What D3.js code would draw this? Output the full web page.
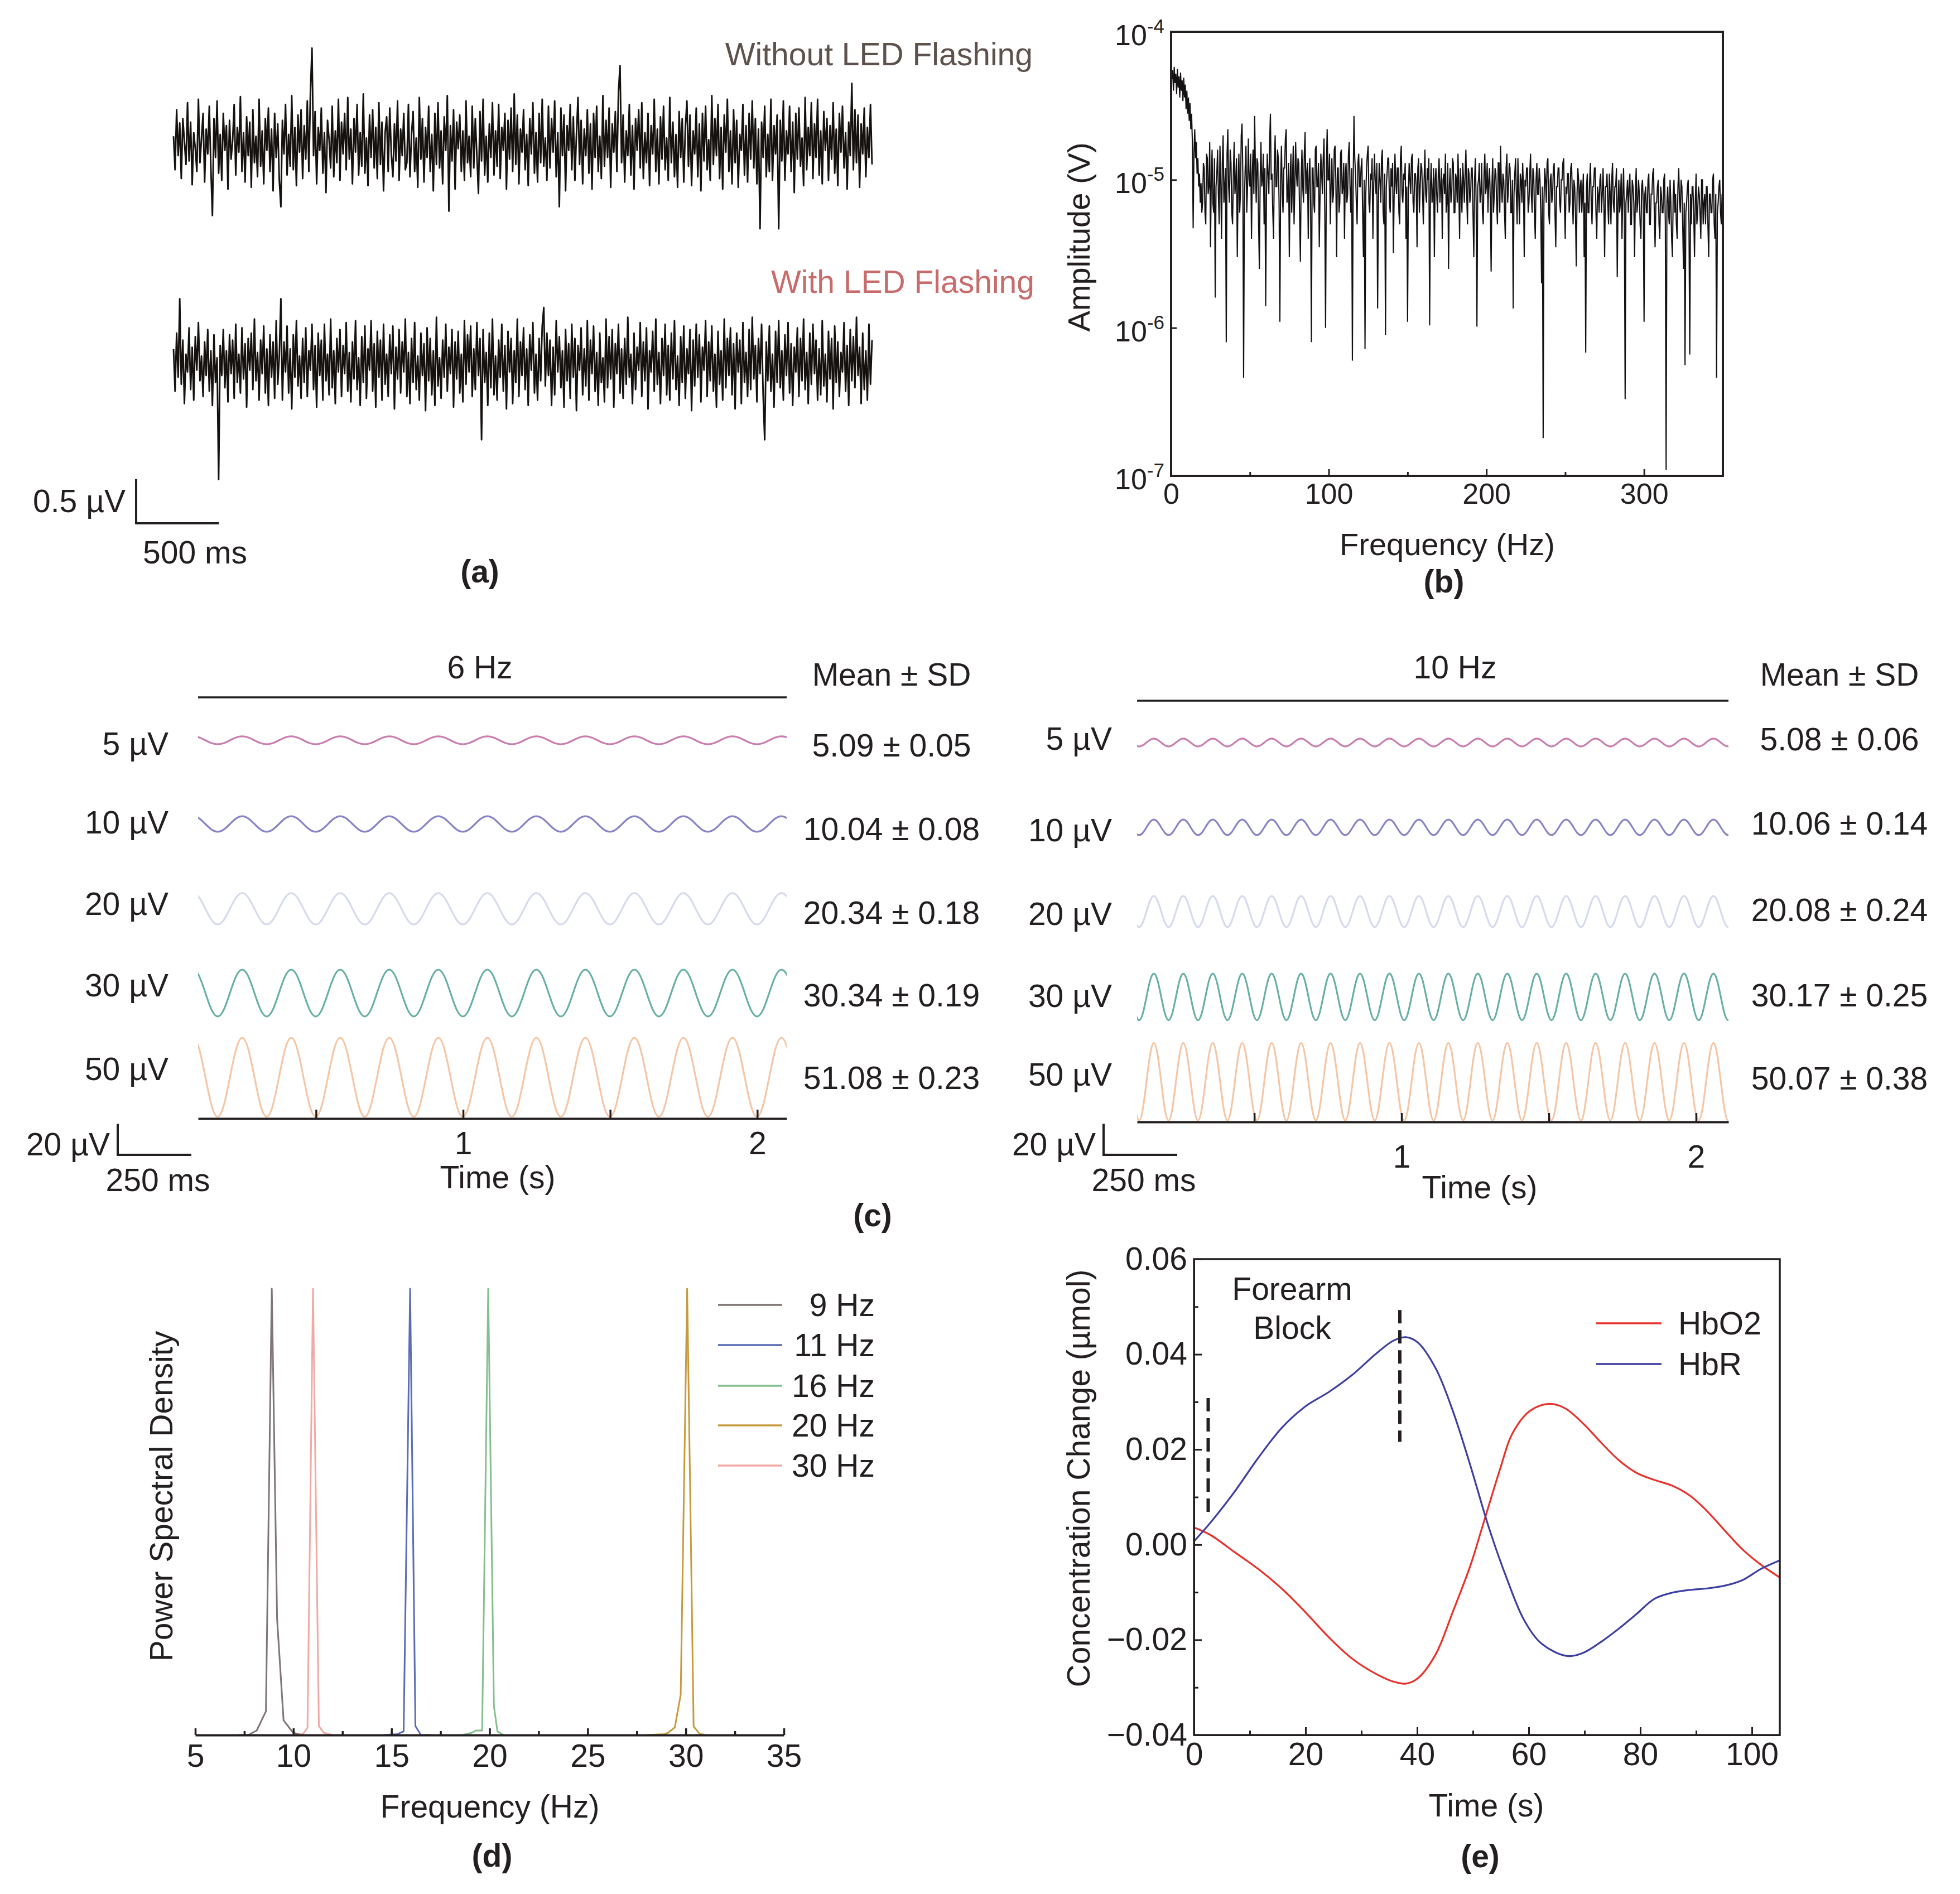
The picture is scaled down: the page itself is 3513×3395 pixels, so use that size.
<!DOCTYPE html>
<html><head><meta charset="utf-8">
<script src="https://cdn.jsdelivr.net/npm/d3@7"></script>
<style>body{margin:0;background:#fff}</style>
</head><body><svg id="c" width="3513" height="3395"></svg>
<script>
// ---------------- DATA ----------------
// (a) EEG noise traces, units of 0.01 µV, evenly sampled over traceDuration seconds
const traceDuration = 4.22;
const traceWithout = [
10,-28,40,-12,25,-38,30,4,-22,48,-18,26,-45,14,-4,-30,52,-20,8,36,-42,18,-10,44,-26,-80,30,-14,50,-32,
12,-40,36,-6,22,-50,28,-16,5,46,-34,20,-8,55,-30,14,-42,32,-12,26,-48,40,-20,10,-36,52,-24,16,-44,30,
-6,42,-30,18,-52,36,-14,24,-40,-70,28,-10,46,-34,12,-24,56,-28,20,-46,34,-8,40,-38,22,-16,50,-30,60,110,
-12,38,-44,20,-6,42,-32,14,-54,28,6,-26,44,-36,16,-20,52,-40,26,-10,36,-28,54,-16,18,-44,30,-8,46,-34,
14,-24,58,-32,8,-46,34,-14,40,-26,20,-38,48,-22,26,-52,14,32,-30,42,-10,-36,24,-18,50,-40,18,-12,36,-28,
-20,46,-36,12,38,-30,8,-48,54,-16,30,-42,20,-14,44,-30,12,-52,36,-22,48,-26,16,-44,32,-6,56,-75,22,-18,
40,-50,26,-4,34,-30,16,-40,50,-20,10,-36,44,-26,30,-12,-55,38,-18,52,-34,10,-42,24,-14,48,-34,16,-24,46,
-38,20,-6,36,-50,28,-16,42,-30,58,-22,34,-44,18,-8,40,-28,12,-46,30,-10,48,-32,14,-42,36,-20,52,-24,8,
-40,44,-26,30,-8,50,-36,14,-70,42,-12,34,-52,22,-6,46,-28,32,-40,12,54,-22,28,-44,18,-12,40,-32,24,-50,
36,-14,44,-30,10,-38,56,-24,28,-14,42,-48,24,-8,38,-30,60,90,-20,34,-42,16,-12,46,-34,22,-50,30,-6,40,
-26,48,-38,14,-20,36,-46,22,-10,52,-30,18,-44,32,-16,44,-28,8,-40,54,-20,26,-36,12,-48,38,-14,30,-42,20,
50,-24,34,-46,16,-10,42,-36,24,-52,36,-18,44,-28,6,-40,56,-22,30,-12,46,-38,20,-50,34,-8,52,-30,16,-44,
40,-20,28,-48,12,-6,46,-34,22,-42,36,-16,50,-26,30,-44,18,-95,26,-14,44,-36,12,-30,52,-40,22,-10,34,-95,
28,-18,50,-40,16,-10,44,-30,26,-54,36,-16,42,-24,8,-46,54,-28,20,-12,48,-38,24,-14,52,-34,16,-44,38,-6,
30,-40,22,-16,48,-32,18,-46,36,-8,44,-26,14,-50,26,-12,70,-28,40,-20,34,-48,24,-10,42,-36,20,-14,46,-22];
const traceWith = [
18,-30,36,-14,75,-22,28,-44,12,-8,42,-28,20,-40,32,-6,48,-18,10,-36,26,-12,40,-30,16,-46,34,-20,8,-130,
22,-12,40,-26,16,-42,34,-10,28,-38,46,-20,12,-32,42,-16,24,-48,30,-6,36,-28,52,-18,14,-40,28,-10,44,-32,
18,-46,34,-14,26,-38,50,-22,10,75,-40,26,-8,44,-32,18,-50,34,-14,50,-24,10,-38,30,-20,42,-36,16,-6,46,
-28,22,-48,36,-12,28,-40,46,-18,12,-34,52,-26,16,-44,30,-8,40,-36,22,-10,48,-30,14,-42,26,-16,50,-28,8,
-46,32,-20,44,-38,18,-6,50,-30,24,-48,38,-14,28,-40,46,-22,12,-36,34,-10,44,-50,20,-16,40,-32,26,-8,52,
-36,14,-44,30,-20,48,-28,10,-40,36,-12,24,-52,42,-18,30,-34,16,-46,54,-24,8,-38,28,-14,46,-30,20,-10,40,
-48,26,-16,38,-32,12,-42,50,-22,34,-8,44,-36,18,-28,48,-12,30,-85,40,-20,14,-46,36,-26,52,-34,10,-40,28,
-14,46,-30,22,-50,38,-8,30,-44,16,-20,52,-36,26,-12,42,-28,18,-46,34,-6,48,-32,12,-40,30,-18,44,65,-24,
36,-12,28,-46,20,-34,50,-8,32,-26,16,-48,40,-18,24,-38,46,-14,30,-52,22,-6,42,-34,18,-24,50,-40,28,-10,
44,-30,14,-46,36,-20,8,-42,52,-26,32,-16,40,-48,24,-10,46,-32,18,-38,30,-22,54,-14,12,-44,36,-28,20,-6,
48,-36,26,-18,42,-50,16,-8,38,-30,52,-22,14,-44,30,-12,46,-34,22,-40,36,-16,50,-28,10,-46,32,-20,44,-38,
18,-10,40,-52,28,-24,46,-14,34,-42,20,-6,50,-36,26,-18,44,-30,12,-48,38,-22,16,-40,52,-26,30,-12,42,-34,
24,-50,36,-8,28,-44,48,-20,14,-36,40,-28,54,-16,22,-42,30,-10,46,-34,-85,26,-18,44,-30,12,-48,38,-20,50,
-26,16,-40,34,-12,48,-32,24,-46,20,-8,42,-36,30,-18,52,-28,14,-44,36,-22,46,-10,28,-40,18,-34,50,-24,12,
-42,38,-16,30,-50,44,-20,26,-36,14,-8,48,-30,22,-46,40,-18,32,-26,54,-12,20,-44,36,-28,16,-40,46,-22,28];

// (b) amplitude spectrum, µV, one value every specStepHz from 0 Hz
const specStepHz = 0.5;
const specAmp = [
62,48,55,40,58,45,52,38,56,42,50,36,53,40,47,34,49,36,44,30,
40,28,36,25,33,22,28,18,4.7,15,22,14,18,11,14,9,11,7,9.5,6,
7,13,12,6,5,15,14,8,9,18,3.5,10,16,7,6,14,1.6,9,11,16,
8,5,17,10,4,13,20,7,9,12,0.8,15,22,9,7,16,13,6,5,11,
18,8,10,14,3,9,15,6,8,20,24,11,0.46,7,12,17,6,9,19,10,
9,15,4,11,16,8,27,12,7,14,13,5,2.5,10,18,9,10,15,5,12,
1.4,8,15,11,8,18,28,10,11,6,4,13,20,9,9,16,14,7,1.1,10,
17,8,6,12,12,19,22,7,8,13,3,10,15,6,10,17,5,9,18,11,
9,14,13,6,2.8,10,16,9,7,15,21,8,11,13,4,10,14,7,0.8,12,
12,7,6,16,17,9,9,13,3.5,8,15,11,8,14,19,6,1.0,12,22,10,
10,15,5,9,14,7,8,16,17,10,3,12,12,6,7,15,16,8,9,13,
4,11,13,7,8,15,18,9,6,12,0.6,10,27,14,11,7,5,13,15,9,
9,12,14,6,3,10,0.72,8,12,15,17,7,6,11,10,14,4,9,15,10,
8,13,1.35,7,13,10,7,14,16,6,5,11,0.89,9,11,14,14,7,6,12,
9,13,3.2,8,15,10,8,12,12,6,5,14,17,8,7,11,10,13,4,9,
1.1,8,13,10,8,14,15,7,6,11,11,9,3.5,12,14,6,9,13,12,8,
5,10,16,8,7,12,10,14,1.04,9,13,7,8,12,3,10,12,8,6,11,
14,7,9,12,4,10,11,8,15,6,7,13,2.5,9,12,7,8,14,13,6,
6,11,10,7,15,9,4,12,9,6,13,10,7,11,16,8,5,12,11,7,
8,12,12,6,3,10,14,7,1.02,9,10,13,7,8,13,6,5,11,15,8,
9,13,6,10,12,7,2.4,9,14,6,8,12,11,7,5,13,13,6,17,9,
7,11,10,6,4,12,15,7,9,13,12,6,6,10,1.35,8,11,14,8,5,
14,8,5,11,10,7,13,9,3,10,9,12,12,6,7,11,15,8,6,12,
11,6,4,10,13,8,8,12,10,6,2,9,0.18,7,12,10,7,13,14,6,
5,10,11,7,8,12,13,6,3.5,9,9,12,12,7,6,10,10,13,14,7,
4,9,8,11,11,6,7,12,13,8,5,10,9,6,2.6,8,12,10,6,9,
10,6,8,11,3,7,0.68,9,11,6,6,10,13,7,5,9,9,12,12,6,
4,9,8,6,10,11,6,8,12,7,3,9,9,11,7,5,11,8,5,10,
13,7,6,9,9,12,2.2,7,10,6,7,11,4,8,12,6,0.33,7,8,10,
6,9,11,5,5,10,9,7,3,8,12,6,7,10,8,5,4,9,10,7,
1.1,8,9,6,6,10,11,5,5,8,8,11,12,6,3.5,7,7,9,10,5,
4,9,8,6,6,10,11,5,0.11,7,9,6,5,10,7,4,3,8,10,6,
8,5,4,9,12,7,6,10,9,5,2.5,7,0.56,6,7,9,10,5,0.66,8,
5,9,9,6,3,7,11,5,6,9,8,6,4,10,10,5,7,8,5,9,
9,5,3,8,8,6,6,10,11,5,4,8,0.46,6,7,9,10,6,5,8];
const bXTicks = [0, 100, 200, 300];
const bXMinor = [50, 150, 250];
const bYTicks = [1e-7, 1e-6, 1e-5, 1e-4];

// (c) SSVEP sine responses
const cRowLabels = ["5 µV", "10 µV", "20 µV", "30 µV", "50 µV"];
const cColors = ["#c97db0", "#8884c6", "#d6daee", "#68afa5", "#f5c6a6"];
const mean6 = [5.09, 10.04, 20.34, 30.34, 51.08];
const sd6 = [0.05, 0.08, 0.18, 0.19, 0.23];
const mean10 = [5.08, 10.06, 20.08, 30.17, 50.07];
const sd10 = [0.06, 0.14, 0.24, 0.25, 0.38];
const cycleShape = [1, 0.71, 0, -0.71, -1, -0.71, 0, 0.71]; // one cycle
const cTicks = [0.5, 1, 1.5, 2];

// (d) PSD peaks (normalised)
const dLegend = ["9 Hz", "11 Hz", "16 Hz", "20 Hz", "30 Hz"];
const dColors = ["#7f7575", "#5a6cb6", "#84bf8e", "#c79b3d", "#f2a9a3"];
const dFreq = [
  [7.2, 7.7, 8.13, 8.6, 8.9, 9.17, 9.5, 9.99, 10.45],
  [14.6, 15.3, 15.62, 15.95, 16.22, 16.5, 17.0],
  [18.6, 19.1, 19.3, 19.62, 19.93, 20.22, 20.4, 20.72],
  [28.0, 28.9, 29.1, 29.44, 29.74, 30.07, 30.4, 30.7, 31.0],
  [10.2, 10.5, 10.72, 11.0, 11.3, 11.55, 12.0]];
const dPsd = [
  [0, 0, 0.01, 0.053, 1, 0.26, 0.033, 0.005, 0],
  [0, 0.002, 0.008, 1, 0.02, 0, 0],
  [0, 0.005, 0.01, 0.01, 1, 0.065, 0.008, 0],
  [0, 0.002, 0.005, 0.017, 0.09, 1, 0.019, 0.003, 0],
  [0, 0.003, 0.016, 1, 0.02, 0.005, 0]];
const dTicks = [5, 10, 15, 20, 25, 30, 35];
const dMinor = [7.5, 12.5, 17.5, 22.5, 27.5, 32.5];

// (e) haemoglobin concentration change
const hbo2T = [0,3,7.2,11.5,15.7,19.9,24.2,28.4,32.7,35.8,38,40.1,43.3,46.4,49.6,51.7,55,57,60.2,63.7,66.6,69.8,73,76.1,79.3,82.5,85.7,88.9,92,95.2,98.4,101.6,105];
const hbo2V = [0.0036,0.0020,-0.0015,-0.0051,-0.0092,-0.0141,-0.0195,-0.0240,-0.0272,-0.0288,-0.0292,-0.0281,-0.0231,-0.0141,-0.0042,0.0038,0.0164,0.0232,0.0281,0.0296,0.0286,0.0254,0.0214,0.0178,0.0151,0.0136,0.0124,0.0103,0.0070,0.0029,-0.0011,-0.0042,-0.0069];
const hbrT = [0,3,7.2,11.5,15.7,19.9,24.2,28.4,32.7,35.8,38,40.1,43.3,46.4,49.6,52.8,56,59.2,62.4,66.9,69.8,73,76.1,79.3,82.5,85.7,88.9,92,95.2,98.4,101.6,105];
const hbrV = [0.0007,0.0047,0.0110,0.0182,0.0245,0.0290,0.0321,0.0357,0.0402,0.0429,0.0436,0.0425,0.0371,0.0281,0.0164,0.0038,-0.0069,-0.0159,-0.0209,-0.0234,-0.0227,-0.0204,-0.0177,-0.0146,-0.0114,-0.0101,-0.0095,-0.0092,-0.0086,-0.0074,-0.0051,-0.0033];
const eMarkers = [[2.55, 0.0069, 0.0308], [36.9, 0.0216, 0.0493]];
const eXTicks = [0, 20, 40, 60, 80, 100];
const eXMinor = [10, 30, 50, 70, 90];
const eYTicks = [-0.04, -0.02, 0, 0.02, 0.04, 0.06];
const eYMinor = [-0.03, -0.01, 0.01, 0.03, 0.05];

// ---------------- DRAWING ----------------
const svg = d3.select("#c");
svg.append("rect").attr("width", 3513).attr("height", 3395).attr("fill", "#fff");
const FONT = '"Liberation Sans", Arial, Helvetica, sans-serif';
const INK = "#231f20";
const FS = 57;

function label(x, yc, str, o = {}) {
  const size = o.size || FS;
  return svg.append("text").attr("x", x).attr("y", yc + 0.355 * size)
    .attr("font-family", FONT).attr("font-size", size).attr("fill", o.fill || INK)
    .attr("text-anchor", o.anchor || "middle").attr("font-weight", o.weight || "normal").text(str);
}
function vlabel(xc, yc, str, size = FS) {
  svg.append("text").attr("transform", `translate(${xc},${yc}) rotate(-90)`)
    .attr("y", 0.355 * size).attr("font-family", FONT).attr("font-size", size)
    .attr("fill", INK).attr("text-anchor", "middle").text(str);
}
function styleAxis(g, size, lw) {
  g.selectAll("text").attr("font-family", FONT).attr("font-size", size).attr("fill", INK);
  g.selectAll("line").attr("stroke", INK).attr("stroke-width", lw);
  g.select(".domain").attr("stroke", INK).attr("stroke-width", lw);
}

// ===== (a) =====
{
  const xA = d3.scaleLinear().domain([0, traceDuration]).range([311, 1563]);
  const k = 158; // px per µV
  const centres = [260, 654];
  [traceWithout, traceWith].forEach((tr, j) => {
    const y = d3.scaleLinear().domain([-1, 1]).range([centres[j] + k, centres[j] - k]);
    const n = tr.length;
    const line = d3.line().x((d, i) => xA(i * traceDuration / (n - 1))).y(d => y(d / 100));
    svg.append("path").datum(tr).attr("d", line).attr("fill", "none")
      .attr("stroke", "#15110f").attr("stroke-width", 2.9).attr("stroke-linejoin", "round");
  });
  label(1851, 97, "Without LED Flashing", { anchor: "end", fill: "#5d514d" });
  label(1854, 505, "With LED Flashing", { anchor: "end", fill: "#c86b6b" });
  // scale bar 0.5 µV / 500 ms
  const y0 = 938, x0 = 244;
  const bw = xA(0.5) - xA(0), bh = 0.5 * k;
  svg.append("path").attr("d", `M${x0},${y0 - bh}V${y0}H${x0 + bw}`).attr("fill", "none")
    .attr("stroke", INK).attr("stroke-width", 4);
  label(225, 898, "0.5 µV", { anchor: "end" });
  label(256, 990, "500 ms", { anchor: "start" });
  label(860, 1024, "(a)", { weight: "bold" });
}

// ===== (b) =====
{
  const L = 2099, R = 3088, T = 57, B = 853;
  const x = d3.scaleLinear().domain([0, 350]).range([L, R]);
  const y = d3.scaleLog().domain([1e-7, 1e-4]).range([B, T]);
  svg.append("clipPath").attr("id", "clipB").append("rect").attr("x", L).attr("y", T).attr("width", R - L).attr("height", B - T);
  const line = d3.line().x((d, i) => x(i * specStepHz)).y(d => y(d * 1e-6));
  svg.append("path").datum(specAmp).attr("d", line).attr("clip-path", "url(#clipB)")
    .attr("fill", "none").attr("stroke", "#141112").attr("stroke-width", 2.1);
  // axes
  const gx = svg.append("g").attr("transform", `translate(0,${B})`)
    .call(d3.axisBottom(x).tickValues(bXTicks).tickSizeInner(-12).tickSizeOuter(0).tickPadding(13));
  styleAxis(gx, 52, 3);
  const gxm = svg.append("g").attr("transform", `translate(0,${B})`)
    .call(d3.axisBottom(x).tickValues(bXMinor).tickSizeInner(-7).tickSizeOuter(0).tickFormat(""));
  styleAxis(gxm, 52, 3);
  const gy = svg.append("g").attr("transform", `translate(${L},0)`)
    .call(d3.axisLeft(y).tickValues(bYTicks).tickSizeInner(-10).tickSizeOuter(0).tickPadding(12));
  styleAxis(gy, 52, 3);
  gy.selectAll(".tick text").attr("dy", "0.45em").each(function (d) {
    const e = Math.round(Math.log10(d));
    const t = d3.select(this); t.text(null);
    t.append("tspan").text("10");
    t.append("tspan").attr("dy", -22).attr("font-size", 35).text("-" + (-e));
  });
  svg.append("rect").attr("x", L).attr("y", T).attr("width", R - L).attr("height", B - T)
    .attr("fill", "none").attr("stroke", INK).attr("stroke-width", 4);
  label(2594, 975, "Frequency (Hz)", { size: 56 });
  vlabel(1933, 425, "Amplitude (V)", 56);
  label(2588, 1042, "(b)", { weight: "bold" });
}

// ===== (c) =====
function wavePanel(p) {
  const x = d3.scaleLinear().domain(p.tDomain).range(p.xRange);
  const k = 2.77; // px per µV
  const [x0, x1] = p.xRange;
  svg.append("clipPath").attr("id", p.id).append("rect")
    .attr("x", x0).attr("y", p.lineY + 10).attr("width", x1 - x0).attr("height", p.axisY - p.lineY);
  label(p.titleX, 1196, p.title);
  svg.append("line").attr("x1", x0).attr("x2", x1).attr("y1", p.lineY).attr("y2", p.lineY)
    .attr("stroke", INK).attr("stroke-width", 3.5);
  label(p.meanX, 1209, "Mean ± SD");
  const n = cycleShape.length;
  p.means.forEach((m, i) => {
    const cy = p.rowY[i];
    const y = d3.scaleLinear().domain([-60, 60]).range([cy + 60 * k, cy - 60 * k]);
    const step = 1 / (p.freq * n);
    const kA = Math.floor((p.tDomain[0] - p.tPeak) / step) - 2;
    const kB = Math.ceil((p.tDomain[1] - p.tPeak) / step) + 2;
    const pts = [];
    for (let q = kA; q <= kB; q++) pts.push([p.tPeak + q * step, m / 2 * cycleShape[((q % n) + n) % n]]);
    svg.append("path").datum(pts)
      .attr("d", d3.line().x(d => x(d[0])).y(d => y(d[1])).curve(d3.curveNatural))
      .attr("clip-path", `url(#${p.id})`).attr("fill", "none")
      .attr("stroke", cColors[i]).attr("stroke-width", 3.2);
    label(p.rowLabelX, p.rowLabelY[i], cRowLabels[i], { anchor: "end" });
    label(p.meanX, p.meanY[i], `${m.toFixed(2)} ± ${p.sds[i].toFixed(2)}`);
  });
  const g = svg.append("g").attr("transform", `translate(0,${p.axisY})`)
    .call(d3.axisBottom(x).tickValues(cTicks).tickSizeInner(-16).tickSizeOuter(0)
      .tickPadding(p.tickPad).tickFormat(d => Number.isInteger(d) ? d : ""));
  styleAxis(g, FS, 3.5);
  g.select(".domain").attr("stroke-width", 4);
  // scale bar
  const bw = x(p.tDomain[0] + 0.25) - x(p.tDomain[0]);
  const bh = 20 * k;
  svg.append("path").attr("d", `M${p.barX},${2070 - bh}V${2070}H${p.barX + bw}`)
    .attr("fill", "none").attr("stroke", INK).attr("stroke-width", 4);
  label(p.barX - 14, 2051, "20 µV", { anchor: "end" });
  label(p.barX + 72, 2115, "250 ms");
  label(p.timeX, p.timeY, "Time (s)");
}
wavePanel({
  id: "clipC6", title: "6 Hz", titleX: 860, freq: 6, tPeak: 0.249,
  tDomain: [0.099, 2.1], xRange: [355, 1410], lineY: 1250, axisY: 2005,
  rowY: [1327, 1477, 1629, 1780, 1931], rowLabelX: 302, rowLabelY: [1333, 1474, 1620, 1766, 1916],
  means: mean6, sds: sd6, meanX: 1598, meanY: [1336, 1486, 1636, 1784, 1932],
  tickPad: 24, barX: 211, timeX: 892, timeY: 2110
});
wavePanel({
  id: "clipC10", title: "10 Hz", titleX: 2608, freq: 10, tPeak: 0.159,
  tDomain: [0.102, 2.11], xRange: [2038, 3098], lineY: 1256, axisY: 2011,
  rowY: [1331, 1483, 1634, 1787, 1939], rowLabelX: 1993, rowLabelY: [1324, 1488, 1638, 1785, 1926],
  means: mean10, sds: sd10, meanX: 3297, meanY: [1325, 1476, 1631, 1784, 1933],
  tickPad: 42, barX: 1978, timeX: 2652, timeY: 2128
});
label(1564, 2178, "(c)", { weight: "bold" });

// ===== (d) =====
{
  const x = d3.scaleLinear().domain([5, 35]).range([350, 1405]);
  const y = d3.scaleLinear().domain([0, 1]).range([3110, 2310]);
  dFreq.forEach((fs, i) => {
    const pts = fs.map((f, j) => [f, dPsd[i][j]]);
    svg.append("path").datum(pts).attr("d", d3.line().x(d => x(d[0])).y(d => y(d[1])))
      .attr("fill", "none").attr("stroke", dColors[i]).attr("stroke-width", 3)
      .attr("stroke-linejoin", "round");
  });
  const g = svg.append("g").attr("transform", "translate(0,3110)")
    .call(d3.axisBottom(x).tickValues(dTicks).tickSizeInner(-12).tickSizeOuter(0).tickPadding(17));
  styleAxis(g, FS, 3.5);
  g.select(".domain").attr("stroke-width", 4);
  const gm = svg.append("g").attr("transform", "translate(0,3110)")
    .call(d3.axisBottom(x).tickValues(dMinor).tickSizeInner(-7).tickSizeOuter(0).tickFormat(""));
  styleAxis(gm, FS, 3.5);
  gm.select(".domain").remove();
  const ly = [2339, 2411, 2484, 2555, 2627];
  dLegend.forEach((nm, i) => {
    svg.append("line").attr("x1", 1287).attr("x2", 1402).attr("y1", ly[i]).attr("y2", ly[i])
      .attr("stroke", dColors[i]).attr("stroke-width", 3.5);
    label(1568, ly[i], nm, { anchor: "end" });
  });
  label(878, 3238, "Frequency (Hz)");
  vlabel(289, 2682, "Power Spectral Density");
  label(882, 3326, "(d)", { weight: "bold" });
}

// ===== (e) =====
{
  const L = 2140, R = 3190, T = 2257, B = 3110;
  const x = d3.scaleLinear().domain([0, 105]).range([L, R]);
  const y = d3.scaleLinear().domain([-0.04, 0.06]).range([B, T]);
  svg.append("clipPath").attr("id", "clipE").append("rect").attr("x", L).attr("y", T).attr("width", R - L).attr("height", B - T);
  const mk = (ts, vs) => ts.map((t, i) => [t, vs[i]]);
  const line = d3.line().x(d => x(d[0])).y(d => y(d[1])).curve(d3.curveCatmullRom.alpha(0.5));
  svg.append("path").datum(mk(hbo2T, hbo2V)).attr("d", line).attr("clip-path", "url(#clipE)")
    .attr("fill", "none").attr("stroke", "#e8322b").attr("stroke-width", 3.2);
  svg.append("path").datum(mk(hbrT, hbrV)).attr("d", line).attr("clip-path", "url(#clipE)")
    .attr("fill", "none").attr("stroke", "#3d3fa2").attr("stroke-width", 3.2);
  eMarkers.forEach(m => {
    svg.append("line").attr("x1", x(m[0])).attr("x2", x(m[0])).attr("y1", y(m[2])).attr("y2", y(m[1]))
      .attr("stroke", INK).attr("stroke-width", 6).attr("stroke-dasharray", "24,12");
  });
  const fmt = d3.format(".2f");
  const gx = svg.append("g").attr("transform", `translate(0,${B})`)
    .call(d3.axisBottom(x).tickValues(eXTicks).tickSizeInner(-14).tickSizeOuter(0).tickPadding(14));
  styleAxis(gx, FS, 3);
  const gxm = svg.append("g").attr("transform", `translate(0,${B})`)
    .call(d3.axisBottom(x).tickValues(eXMinor).tickSizeInner(-8).tickSizeOuter(0).tickFormat(""));
  styleAxis(gxm, FS, 3);
  const gy = svg.append("g").attr("transform", `translate(${L},0)`)
    .call(d3.axisLeft(y).tickValues(eYTicks).tickSizeInner(-14).tickSizeOuter(0).tickPadding(12).tickFormat(fmt));
  styleAxis(gy, FS, 3);
  const gym = svg.append("g").attr("transform", `translate(${L},0)`)
    .call(d3.axisLeft(y).tickValues(eYMinor).tickSizeInner(-8).tickSizeOuter(0).tickFormat(""));
  styleAxis(gym, FS, 3);
  svg.append("rect").attr("x", L).attr("y", T).attr("width", R - L).attr("height", B - T)
    .attr("fill", "none").attr("stroke", INK).attr("stroke-width", 3.5);
  label(2316, 2310, "Forearm");
  label(2316, 2380, "Block");
  [["HbO2", "#e8322b", 2372], ["HbR", "#3d3fa2", 2445]].forEach(([nm, c, yy]) => {
    svg.append("line").attr("x1", 2861).attr("x2", 2978).attr("y1", yy).attr("y2", yy)
      .attr("stroke", c).attr("stroke-width", 3.5);
    label(3008, yy, nm, { anchor: "start" });
  });
  label(2664, 3236, "Time (s)");
  vlabel(1933, 2650, "Concentration Change (µmol)");
  label(2653, 3327, "(e)", { weight: "bold" });
}
</script></body></html>
